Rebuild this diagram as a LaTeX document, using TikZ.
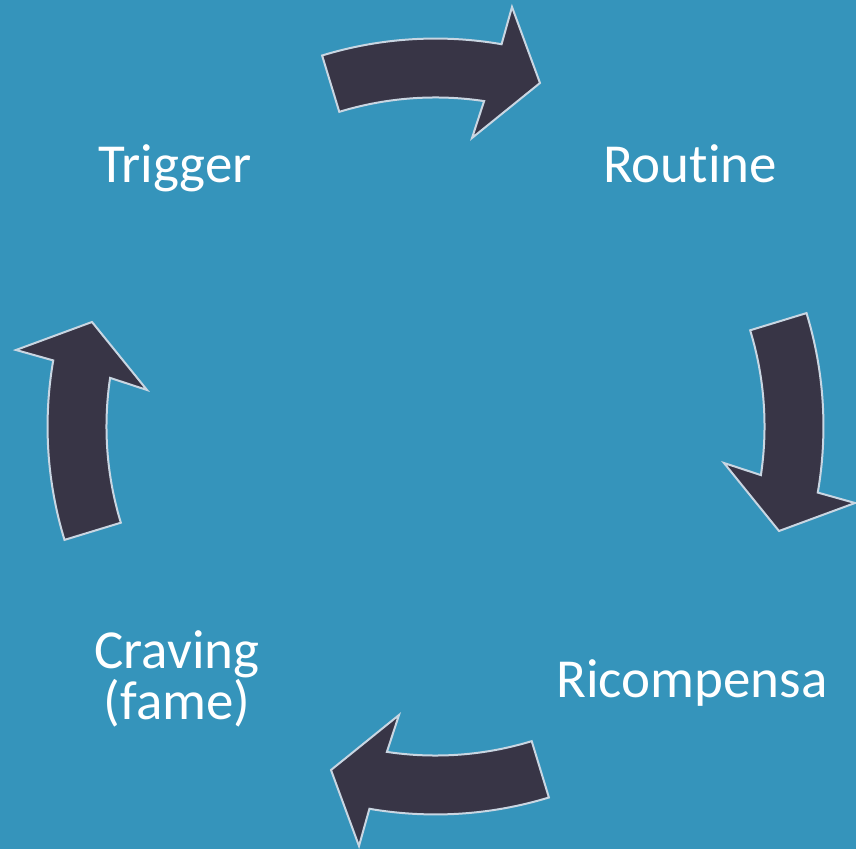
\documentclass[tikz,border=0pt]{standalone}
\usepackage{fontspec}
\setmainfont[Ligatures=NoCommon]{Carlito}
\usepackage{tikz}
\definecolor{bgblue}{HTML}{3594BB}
\definecolor{arrowdark}{HTML}{383546}
\definecolor{arrowedge}{HTML}{C9D6E2}

\begin{document}
\begin{tikzpicture}[x=1pt, y=1pt,
  stagetext/.style={text=white, font=\fontsize{55}{47}\selectfont, align=center, inner sep=0pt, anchor=base},
  cyclearrow/.style={fill=arrowdark, draw=arrowedge, line width=2pt, line join=miter}]
\fill[bgblue] (0,0) rectangle (856,849);
\useasboundingbox (0,0) rectangle (856,849);
\coordinate (C) at (435.5,422.5);
% one curved arrow, turned round the centre four times
\foreach \a in {0,-90,-180,-270}
\draw[cyclearrow, rotate around={\a:(C)}]
  (322.1,793.5) arc[start angle=107, end angle=80.2, radius=388]
  -- (512,842) -- (540,766) -- (472,711) -- (484.1,747.9)
  arc[start angle=81.5, end angle=107, radius=329] -- cycle;
\node[stagetext] (trigger) at (175,666) {Trigger};
\node[stagetext] (routine) at (690,666) {Routine};
\node[stagetext] (ricompensa) at (692,152) {Ricompensa};
\node[stagetext] (craving) at (177,130) {Craving\\(fame)};
\end{tikzpicture}
\end{document}
